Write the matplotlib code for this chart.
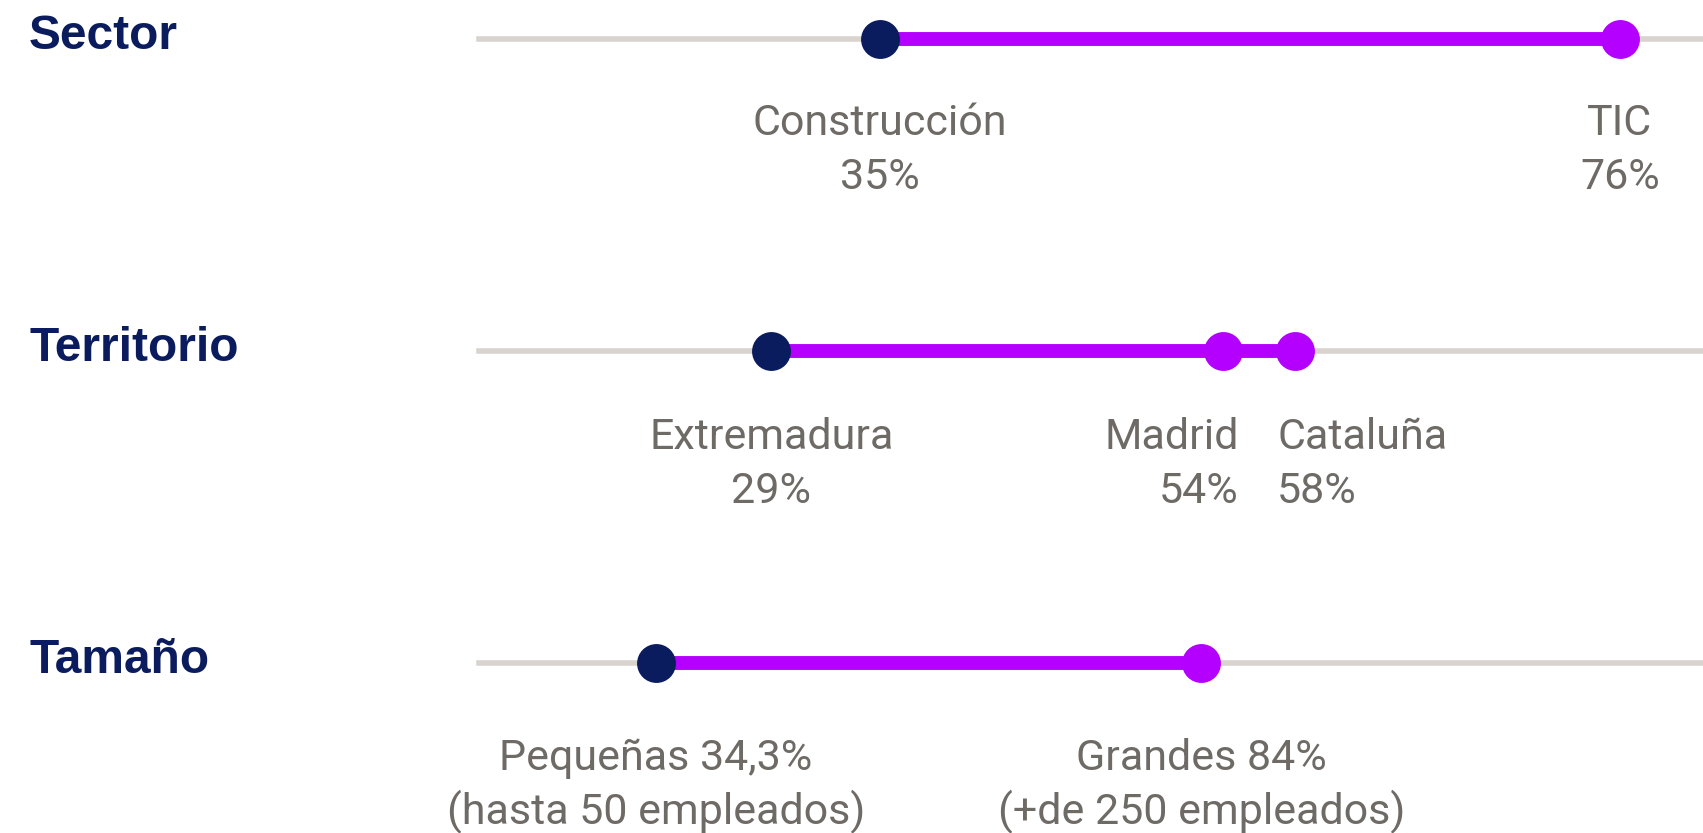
"""
Dumbbell rows: adoption range by sector, territory and company size.
"""

import matplotlib.pyplot as plt


# Data
sector_names = ["Construcción", "TIC"]
sector_values = [35, 76]

territorio_names = ["Extremadura", "Madrid", "Cataluña"]
territorio_values = [29, 54, 58]

tamano_names = ["Pequeñas", "Grandes"]
tamano_values = [34.3, 84]
tamano_notes = ["(hasta 50 empleados)", "(+de 250 empleados)"]

row_titles = ["Sector", "Territorio", "Tamaño"]


# Style
NAVY = "#0a1c5e"
PURPLE = "#b400ff"
TRACK = "#d8d3cd"
TEXT = "#6e6a66"

W, H = 1703, 833
fig = plt.figure(figsize=(W / 100, H / 100), dpi=100)
fig.patch.set_facecolor("white")


def pct(v):
  return "{:g}%".format(v).replace(".", ",")


def add_row(y_px, xlim):
  """Axes strip spanning from the track start to the right edge."""
  left = 479
  height = 120
  ax = fig.add_axes([left / W, 1 - (y_px + height / 2) / H,
                     1 - left / W, height / H])
  ax.set_xlim(*xlim)
  ax.set_ylim(-1, 1)
  ax.axis("off")
  ax.axhline(0, color=TRACK, lw=4, zorder=1, clip_on=False)
  return ax


def draw_dumbbell(ax, values):
  lo, hi = min(values), max(values)
  ax.plot([lo, hi], [0, 0], color=PURPLE, lw=10, solid_capstyle="butt",
          zorder=2, clip_on=False)
  for v in values:
    color = NAVY if v == lo else PURPLE
    ax.plot([v], [0], marker="o", ms=28, mew=0, color=color, zorder=3,
            clip_on=False)


def label(ax, v, lines, dy, ha="center", dx=0):
  for i, line in enumerate(lines):
    ax.annotate(line, xy=(v, 0), xytext=(dx, -(dy + 54 * i)),
                textcoords="offset pixels", ha=ha, va="baseline",
                fontsize=31, color=TEXT, family="Roboto",
                annotation_clip=False)


# Sector
ax1 = add_row(39, (12.8, 80.6))
draw_dumbbell(ax1, sector_values)
for name, v in zip(sector_names, sector_values):
  label(ax1, v, [name, pct(v)], 96)

# Territorio
ax2 = add_row(351, (12.8, 80.6))
draw_dumbbell(ax2, territorio_values)
aligns = [("center", 0), ("right", 16), ("left", -18)]
for name, v, (ha, dx) in zip(territorio_names, territorio_values, aligns):
  label(ax2, v, [name, pct(v)], 98, ha=ha, dx=dx)

# Tamaño
ax3 = add_row(663, (18.2, 129.7))
draw_dumbbell(ax3, tamano_values)
for name, v, note in zip(tamano_names, tamano_values, tamano_notes):
  label(ax3, v, ["{} {}".format(name, pct(v)), note], 107)

# Row titles
for title, y_px in zip(row_titles, [39, 351, 663]):
  fig.text(29 / W, 1 - (y_px + 10) / H, title, ha="left", va="baseline",
           fontsize=34.5, fontweight="bold", color=NAVY,
           family="Liberation Sans")

fig.savefig("out.png", dpi=100, facecolor="white")
